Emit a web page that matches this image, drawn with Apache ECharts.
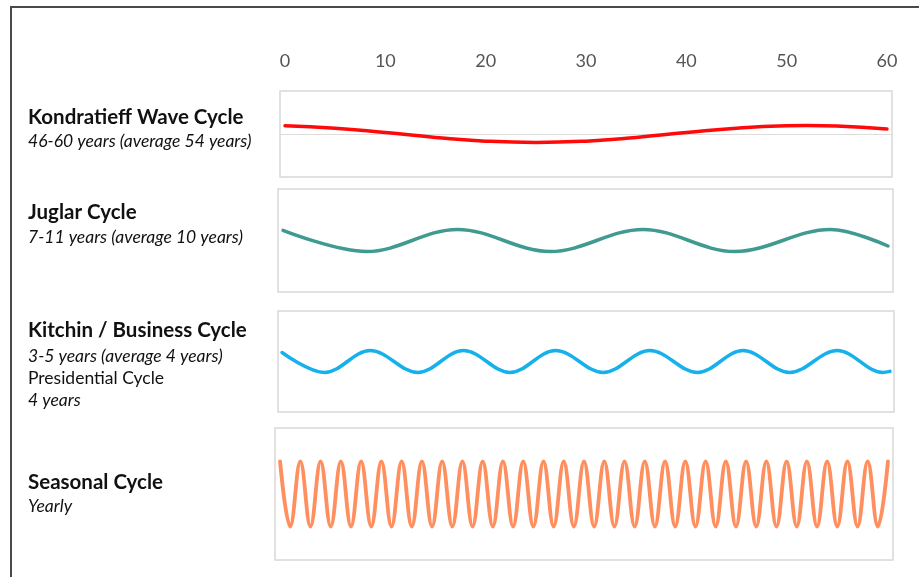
<!DOCTYPE html>
<html>
<head>
<meta charset="utf-8">
<script src="https://cdn.jsdelivr.net/npm/echarts@6/dist/echarts.min.js"></script>
<style>
html,body{margin:0;padding:0;background:#fff;}
#main{width:919px;height:577px;}
</style>
</head>
<body>
<div id="main"></div>
<script>
// ---- data (years, relative amplitude) ----
const kondratieff = [[0,0.97],[5,0.69],[10,0.17],[15,-0.40],[20,-0.84],[25,-1.0],[30,-0.84],[35,-0.40],[40,0.17],[45,0.69],[50,0.97],[52,1.0],[55,0.94],[60,0.60]];
const juglar = [[0,0.92],[8.3,-1],[17.3,1],[26.5,-1],[35.7,1],[44.8,-1],[54.3,1],[60,-0.5]];
const kitchin = [[0,0.82],[4.2,-1],[8.7,1],[13.4,-1],[17.9,1],[22.5,-1],[27.0,1],[31.7,-1],[36.3,1],[41.0,-1],[45.5,1],[50.1,-1],[54.8,1],[59.3,-1],[60,-0.9]];
const seasonal = [[0,1],[1,-1],[2,1],[3,-1],[4,1],[5,-1],[6,1],[7,-1],[8,1],[9,-1],[10,1],[11,-1],[12,1],[13,-1],[14,1],[15,-1],[16,1],[17,-1],[18,1],[19,-1],[20,1],[21,-1],[22,1],[23,-1],[24,1],[25,-1],[26,1],[27,-1],[28,1],[29,-1],[30,1],[31,-1],[32,1],[33,-1],[34,1],[35,-1],[36,1],[37,-1],[38,1],[39,-1],[40,1],[41,-1],[42,1],[43,-1],[44,1],[45,-1],[46,1],[47,-1],[48,1],[49,-1],[50,1],[51,-1],[52,1],[53,-1],[54,1],[55,-1],[56,1],[57,-1],[58,1],[59,-1],[60,1]];
const axisMin = 0, axisMax = 60, axisStep = 10;
const cycleNames = ['Kondratieff Wave Cycle','Juglar Cycle','Kitchin / Business Cycle','Seasonal Cycle'];
const cycleNotes = ['46-60 years (average 54 years)','7-11 years (average 10 years)','3-5 years (average 4 years)','Yearly'];
const extraName = 'Presidential Cycle';
const extraNote = '4 years';

const FONT = 'Lato, "Open Sans", sans-serif';
const chart = echarts.init(document.getElementById('main'));

const panels = [
  {left:280, width:612, top:91,  height:86,  xmin:-0.5, xmax:60.5, ymax:5.06, data:kondratieff, color:'#ff0a0a', lw:3.5, zero:true, smooth:0.5},
  {left:278, width:615, top:189, height:103, xmin:-0.5, xmax:60.5, ymax:4.68, data:juglar, color:'#3f9a90', lw:3.5, smooth:0.36},
  {left:278, width:616, top:311, height:101, xmin:-0.4, xmax:60.4, ymax:4.6, data:kitchin, color:'#16b0ea', lw:3.5, smooth:0.36},
  {left:275, width:618, top:428, height:132, xmin:-0.5, xmax:60.5, ymax:2.03, data:seasonal, color:'#ff8f5e', lw:3.8, smooth:0.4}
];

const grid = [{left:285, width:602, top:74, height:1, show:false}];
const xAxis = [{gridIndex:0, type:'value', position:'top', min:axisMin, max:axisMax, interval:axisStep,
  axisLine:{show:false}, axisTick:{show:false}, splitLine:{show:false},
  axisLabel:{color:'#555', fontSize:18, fontFamily:FONT, margin:4}}];
const yAxis = [{gridIndex:0, type:'value', show:false}];
const series = [];

panels.forEach((p,i)=>{
  const gi = i+1;
  grid.push({left:p.left, width:p.width, top:p.top, height:p.height, show:true,
    borderColor:'#d8d8d8', borderWidth:1.5, backgroundColor:'#fff'});
  xAxis.push({gridIndex:gi, type:'value', min:p.xmin, max:p.xmax,
    axisLabel:{show:false}, axisTick:{show:false}, splitLine:{show:false},
    axisLine:{show:!!p.zero, onZero:true, lineStyle:{color:'#dcdcdc', width:1.2}}});
  yAxis.push({gridIndex:gi, type:'value', min:-p.ymax, max:p.ymax, show:false});
  series.push({type:'line', xAxisIndex:gi, yAxisIndex:gi, data:p.data, smooth:p.smooth,
    showSymbol:false, silent:true, lineStyle:{color:p.color, width:p.lw, cap:'round'}, z:5});
});

function txt(x,y,text,font){
  return {type:'text', x:x, y:y, silent:true, style:{text:text, fill:'#111',
    font:font, textVerticalAlign:'middle', verticalAlign:'middle'}};
}
const B = 'bold 20.5px ' + FONT;
const I = 'italic 17.5px ' + FONT;
const R = '17.5px ' + FONT;

const graphic = [
  {type:'line', shape:{x1:11, y1:7, x2:919, y2:7}, style:{stroke:'#4a4a4a', lineWidth:2}, silent:true},
  {type:'line', shape:{x1:11, y1:6, x2:11, y2:577}, style:{stroke:'#4a4a4a', lineWidth:2}, silent:true},
  txt(28,117,cycleNames[0],B),
  txt(28,141.5,cycleNotes[0],I),
  txt(28,212,cycleNames[1],B),
  txt(28,237.5,cycleNotes[1],I),
  txt(28,330,cycleNames[2],B),
  txt(28,356,cycleNotes[2],I),
  txt(28,378,extraName,R),
  txt(28,400,extraNote,I),
  txt(28,482,cycleNames[3],B),
  txt(28,506,cycleNotes[3],I)
];

chart.setOption({animation:false, backgroundColor:'#fff', grid, xAxis, yAxis, series, graphic});
</script>
</body>
</html>
